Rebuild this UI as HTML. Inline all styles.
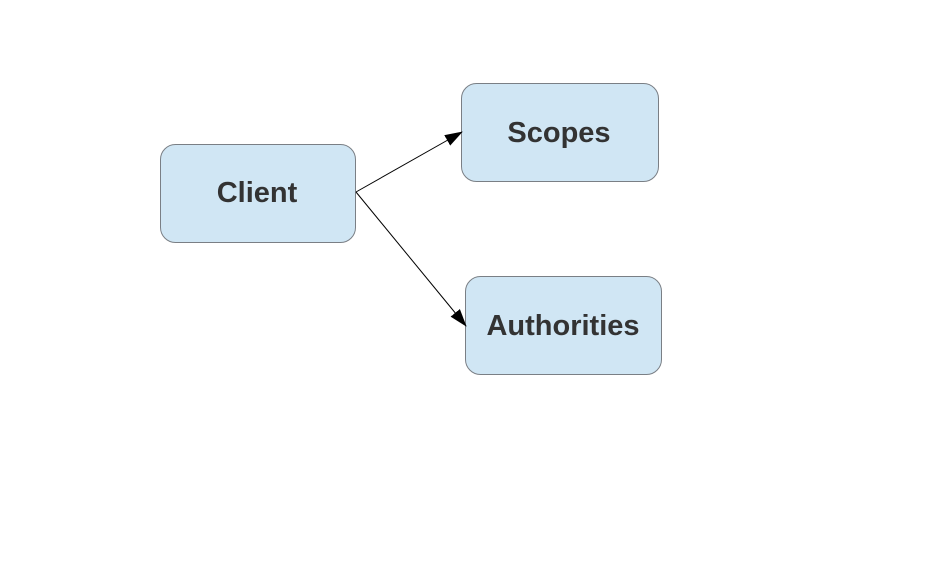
<!DOCTYPE html>
<html><head><style>body{margin:0;background:#fff}</style></head><body>
<svg width="945" height="567" xmlns="http://www.w3.org/2000/svg" font-family="Liberation Sans, sans-serif">
<defs><marker id="a" markerWidth="18" markerHeight="12" refX="17" refY="6" orient="auto" markerUnits="userSpaceOnUse"><path d="M0,0 L18,6 L0,12 Z" fill="#000"/></marker></defs>
<g fill="#d0e6f4" stroke="#7a7f85" stroke-width="1">
<rect x="160.5" y="144.5" width="195" height="98" rx="15"/>
<rect x="461.5" y="83.5" width="197" height="98" rx="15"/>
<rect x="465.5" y="276.5" width="196" height="98" rx="15"/>
</g>
<line x1="356" y1="192" x2="462" y2="132" stroke="#000" stroke-width="1" marker-end="url(#a)"/>
<line x1="356" y1="192" x2="466" y2="326" stroke="#000" stroke-width="1" marker-end="url(#a)"/>
<g fill="#333" font-weight="bold" font-size="29" text-anchor="middle">
<text x="257" y="202">Client</text>
<text x="559" y="142">Scopes</text>
<text x="563" y="335">Authorities</text>
</g>
</svg>
</body></html>
